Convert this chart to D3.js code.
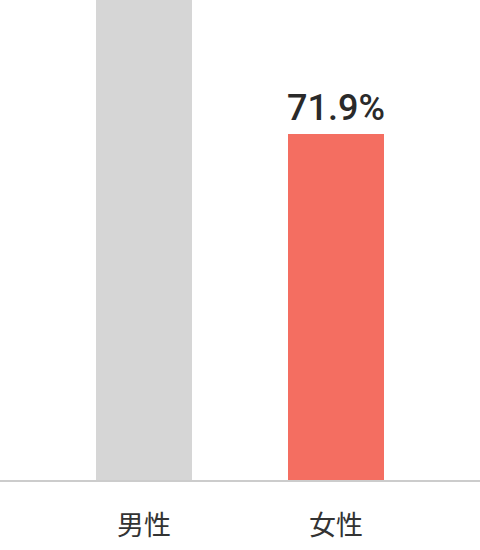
<!DOCTYPE html>
<html><head><meta charset="utf-8">
<script src="https://cdn.jsdelivr.net/npm/d3@7"></script>
<style>body{margin:0;background:#fff}</style></head>
<body><svg id="c" width="480" height="550"></svg>
<script>
const categories = ["男性", "女性"];
const values = [100, 71.9];
const colors = ["#d6d6d6", "#f46e61"];
const labels = [null, "71.9%"];

const svg = d3.select("#c");
const x = d3.scaleBand().domain(categories).range([48, 432]).paddingInner(0.5).paddingOuter(0.25);
const y = d3.scaleLinear().domain([0, 71.9]).range([480, 134]);

svg.selectAll("rect").data(categories).join("rect")
  .attr("x", d => x(d)).attr("width", x.bandwidth())
  .attr("y", (d,i) => y(values[i])).attr("height", (d,i) => 480 - y(values[i]))
  .attr("fill", (d,i) => colors[i]);

svg.append("line").attr("x1",0).attr("x2",480).attr("y1",481).attr("y2",481)
  .attr("stroke","#cccccc").attr("stroke-width",2);

svg.selectAll("text.cat").data(categories).join("text").attr("class","cat")
  .attr("x", d => x(d) + x.bandwidth()/2).attr("y", 535)
  .attr("text-anchor","middle").attr("font-family","Noto Sans CJK JP")
  .attr("font-size",27).attr("fill","#333").text(d => d);

svg.selectAll("text.val").data(categories).join("text").attr("class","val")
  .attr("x", d => x(d) + x.bandwidth()/2).attr("y", (d,i) => y(values[i]) - 14)
  .attr("text-anchor","middle").attr("font-family","Roboto, Noto Sans")
  .attr("font-size",36).attr("font-weight",500).attr("fill","#2a2a2a")
  .text((d,i) => labels[i] || "");
</script></body></html>
